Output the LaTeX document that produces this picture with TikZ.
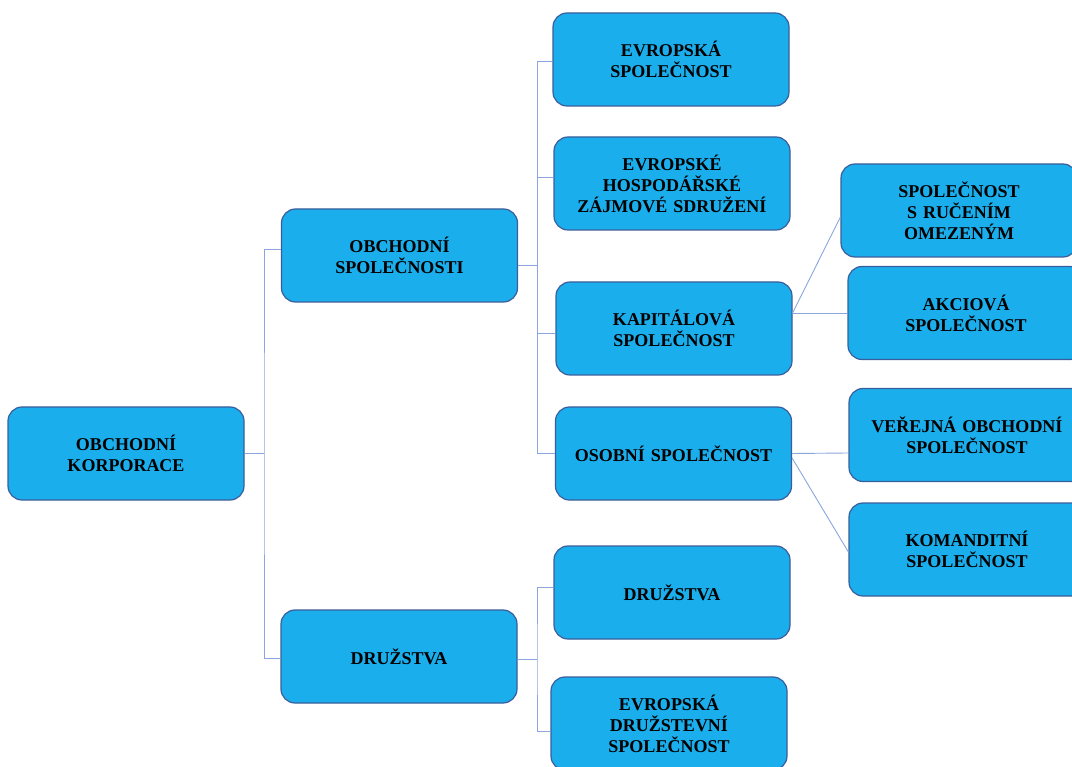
\documentclass[tikz,border=0pt]{standalone}
\usepackage{fontspec}
\setmainfont{Liberation Serif}
\definecolor{boxfill}{HTML}{1BAEEC}
\definecolor{boxline}{HTML}{3A5E9C}
\definecolor{wire}{HTML}{8AA6DC}
\begin{document}
\begin{tikzpicture}[x=1pt,y=-1pt,
  box/.style={draw=boxline, line width=1.2pt, fill=boxfill, rounded corners=14pt,
    minimum width=236pt, minimum height=93pt, inner sep=4pt, text width=228pt,
    align=center, font=\bfseries\fontsize{18}{21}\selectfont},
  wirestyle/.style={draw=wire, line width=0.9pt}]
\useasboundingbox (0,0) rectangle (1072,767);
% nodes
\node[box] (korp) at (126,453.5) {OBCHODNÍ\\KORPORACE};
\node[box] (os)   at (399.5,255.5) {OBCHODNÍ\\SPOLEČNOSTI};
\node[box] (dr)   at (399,656.5) {DRUŽSTVA};
\node[box] (es)   at (671,59.5) {EVROPSKÁ\\SPOLEČNOST};
\node[box] (ehzs) at (672,183.5) {EVROPSKÉ\\HOSPODÁŘSKÉ\\ZÁJMOVÉ SDRUŽENÍ};
\node[box] (kap)  at (674,328.5) {KAPITÁLOVÁ\\SPOLEČNOST};
\node[box] (osob) at (673.5,453.5) {OSOBNÍ SPOLEČNOST};
\node[box] (dr2)  at (672,592.5) {DRUŽSTVA};
\node[box] (eds)  at (669,723.5) {EVROPSKÁ\\DRUŽSTEVNÍ\\SPOLEČNOST};
\node[box] (sro)  at (959,210.5) {SPOLEČNOST\\S RUČENÍM\\OMEZENÝM};
\node[box] (as)   at (966,313) {AKCIOVÁ\\SPOLEČNOST};
\node[box] (vos)  at (967,435) {VEŘEJNÁ OBCHODNÍ\\SPOLEČNOST};
\node[box] (ks)   at (967,549.5) {KOMANDITNÍ\\SPOLEČNOST};
% junction coordinates
\coordinate (j1) at (264,453.5);
\coordinate (j2) at (537,265);
\coordinate (j3) at (537,659);
% connectors
\begin{scope}[wirestyle]
\draw (korp.east) -- (j1);
\draw ([yshift=6.5pt]os.west) -| (j1) |- ([yshift=-1.5pt]dr.west);
\draw ([yshift=-9.5pt]os.east) -- (j2);
\draw ([yshift=-1.5pt]es.west) -| (j2);
\draw ([yshift=6.5pt]ehzs.west) -| (j2);
\draw (j2) |- ([yshift=-4.5pt]kap.west);
\draw (j2) |- (osob.west);
\draw ([yshift=-2.5pt]dr.east) -- (j3);
\draw ([yshift=5.5pt]dr2.west) -| (j3) |- ([yshift=-7.5pt]eds.west);
\draw ([yshift=15.5pt]kap.east) -- ([yshift=-6.5pt]sro.west);
\draw ([yshift=15.5pt]kap.east) -- (as.west);
\draw (osob.east) -- ([yshift=-18pt]vos.west);
\draw ([yshift=-4.5pt]osob.east) -- ([yshift=-2.5pt]ks.west);
\end{scope}
\end{tikzpicture}
\end{document}
